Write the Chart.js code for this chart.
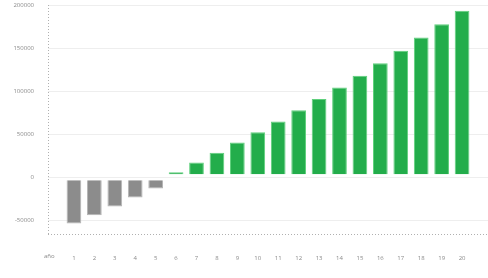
<!DOCTYPE html>
<html>
<head>
<meta charset="utf-8">
<script src="https://cdn.jsdelivr.net/npm/chart.js@4/dist/chart.umd.min.js"></script>
<style>
  html, body { margin: 0; padding: 0; background: #fff; }
  #wrap { width: 488px; height: 278px; }
</style>
</head>
<body>
<div id="wrap"><canvas id="chart"></canvas></div>
<script>
// years and cash flow values
const years = [1, 2, 3, 4, 5, 6, 7, 8, 9, 10, 11, 12, 13, 14, 15, 16, 17, 18, 19, 20];
const values = [-53900, -44200, -34100, -23600, -13100, 5800, 17100, 28300, 40300, 52100,
    64800, 77600, 90700, 104300, 117800, 132200, 146800, 162300, 177600, 193400];
const yTicks = [-50000, 0, 50000, 100000, 150000, 200000];
const xTitle = 'año';

const negPoints = [];
const posPoints = [];
years.forEach((yr, i) => {
    if (values[i] < 0) negPoints.push({ x: yr, y: values[i] });
    else posPoints.push({ x: yr, y: values[i] });
});

const tickFont = { family: 'Open Sans', size: 6 };

// dotted axis lines along the left and bottom of the plot, plus the x title
const dottedAxes = {
    id: 'dottedAxes',
    afterDatasetsDraw(chart) {
        const { ctx, chartArea } = chart;
        ctx.save();
        ctx.strokeStyle = '#b0b0b0';
        ctx.lineWidth = 1;
        ctx.setLineDash([1, 2]);
        ctx.beginPath();
        ctx.moveTo(chartArea.left + 0.5, chartArea.top);
        ctx.lineTo(chartArea.left + 0.5, chartArea.bottom);
        ctx.moveTo(chartArea.left, chartArea.bottom + 0.5);
        ctx.lineTo(chartArea.right, chartArea.bottom + 0.5);
        ctx.stroke();
        ctx.setLineDash([]);
        ctx.fillStyle = '#8a8a8a';
        ctx.font = '6px "Open Sans"';
        ctx.textBaseline = 'middle';
        ctx.fillText(xTitle, chartArea.left - 4, chartArea.bottom + 22);
        ctx.restore();
    }
};

new Chart(document.getElementById('chart'), {
    type: 'bar',
    data: {
        datasets: [{
            data: negPoints,
            backgroundColor: '#8c8c8c',
            borderColor: '#b5b5b5',
            borderWidth: 1,
            base: -3500,
            grouped: false
        }, {
            data: posPoints,
            backgroundColor: '#23ad4b',
            borderColor: '#5fd07c',
            borderWidth: 1,
            base: 3500,
            grouped: false
        }]
    },
    options: {
        responsive: true,
        maintainAspectRatio: false,
        animation: false,
        layout: { padding: { top: 5, left: 0, right: 0, bottom: 0 } },
        plugins: {
            legend: { display: false },
            tooltip: { enabled: false }
        },
        scales: {
            x: {
                type: 'linear',
                offset: false,
                min: -0.27,
                max: 21.27,
                afterBuildTicks: (scale) => {
                    scale.ticks = years.map(v => ({ value: v }));
                },
                afterFit: (scale) => {
                    scale.height = 44;
                    scale.paddingLeft = 0;
                    scale.paddingRight = 0;
                },
                grid: { display: false },
                border: { display: false },
                ticks: { color: '#8a8a8a', font: tickFont, padding: 13, maxRotation: 0, autoSkip: false }
            },
            y: {
                min: -66000,
                max: 200000,
                afterBuildTicks: (scale) => {
                    scale.ticks = yTicks.map(v => ({ value: v }));
                },
                afterFit: (scale) => {
                    scale.width = 48;
                    scale.paddingTop = 0;
                    scale.paddingBottom = 0;
                },
                grid: { color: '#eeeeee', drawTicks: false },
                border: { display: false },
                ticks: {
                    color: '#8a8a8a',
                    font: tickFont,
                    padding: 14,
                    callback: (v) => String(v)
                }
            }
        }
    },
    plugins: [dottedAxes]
});
</script>
</body>
</html>
